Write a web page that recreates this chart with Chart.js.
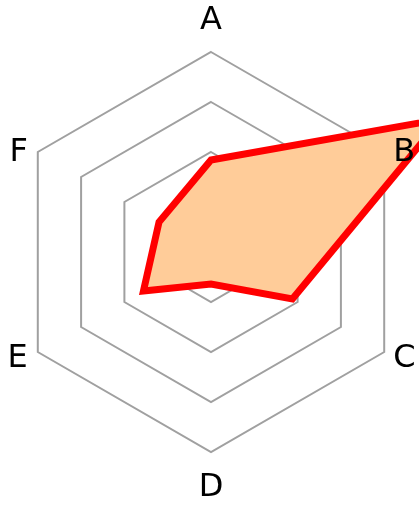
<!DOCTYPE html>
<html>
<head>
<meta charset="utf-8">
<script src="https://cdn.jsdelivr.net/npm/chart.js@4"></script>
<style>
  html, body { margin: 0; padding: 0; background: #fff; }
  #wrap { width: 419px; height: 505px; }
</style>
</head>
<body>
<div id="wrap"><canvas id="radarChart"></canvas></div>
<script>
// Dados do gráfico
const categories = ['A', 'B', 'C', 'D', 'E', 'F'];
const values = [46, 133, 47, 16, 39, 30];
const ringTicks = [0, 25, 50, 75, 100];

// Rótulos desenhados junto aos vértices externos
const labelPlugin = {
  id: 'vertexLabels',
  afterDraw(chart) {
    const scale = chart.scales.r;
    const ctx = chart.ctx;
    ctx.save();
    ctx.font = '32px "DejaVu Sans"';
    ctx.fillStyle = '#000';
    ctx.textBaseline = 'alphabetic';
    categories.forEach((label, i) => {
      const p = scale.getPointPosition(i, scale.drawingArea);
      const dx = p.x - scale.xCenter;
      const dy = p.y - scale.yCenter;
      if (Math.abs(dx) < 1) {
        ctx.textAlign = 'center';
        ctx.fillText(label, p.x, dy < 0 ? p.y - 23 : p.y + 44);
      } else {
        ctx.textAlign = dx < 0 ? 'right' : 'left';
        const x = dx < 0 ? p.x - 10 : p.x + 9;
        const y = p.y + (dy < 0 ? -3 : 3) + 11.5;
        ctx.fillText(label, x, y);
      }
    });
    ctx.restore();
  },
};

const ctx = document.getElementById('radarChart').getContext('2d');
const radarChart = new Chart(ctx, {
  type: 'radar',
  data: {
    labels: categories,
    datasets: [
      {
        data: values,
        backgroundColor: 'rgb(255, 204, 153)',
        borderColor: 'rgb(255, 0, 0)',
        borderWidth: 7,
        pointRadius: 0,
        fill: true,
        clip: false,
      },
    ],
  },
  options: {
    responsive: true,
    maintainAspectRatio: false,
    animation: false,
    layout: {
      padding: { left: 3, right: 0, top: 52, bottom: 53 },
    },
    plugins: {
      legend: { display: false },
      tooltip: { enabled: false },
    },
    scales: {
      r: {
        min: ringTicks[0],
        max: ringTicks[ringTicks.length - 1],
        ticks: { display: false, stepSize: ringTicks[1] - ringTicks[0] },
        grid: { color: 'rgb(160, 160, 160)', lineWidth: 2 },
        angleLines: { display: false },
        pointLabels: { display: false },
      },
    },
  },
  plugins: [labelPlugin],
});
</script>
</body>
</html>
